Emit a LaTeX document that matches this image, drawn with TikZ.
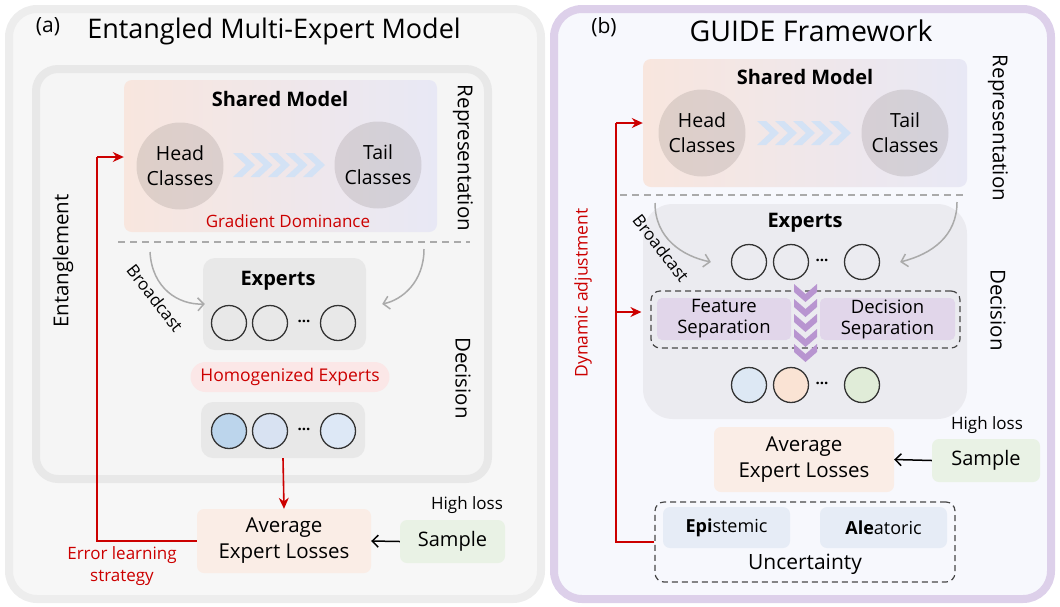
\documentclass[tikz,border=0pt]{standalone}
\usepackage{fontspec}
\setmainfont{Open Sans}
\usetikzlibrary{arrows.meta,calc}
\definecolor{redA}{HTML}{CC0000}
\definecolor{panA}{HTML}{F7F7F7}
\definecolor{panAb}{HTML}{EDEDED}
\definecolor{inA}{HTML}{F5F5F5}
\definecolor{inAb}{HTML}{E8E8E8}
\definecolor{panB}{HTML}{F7F8FD}
\definecolor{panBb}{HTML}{DDD0EA}
\definecolor{shL}{HTML}{F8E6DE}
\definecolor{shR}{HTML}{E8E8F5}
\definecolor{expbg}{HTML}{E8E8E8}
\definecolor{expbgB}{HTML}{EBEBF0}
\definecolor{chevB}{HTML}{D3E2F5}
\definecolor{chevP}{HTML}{B895D0}
\definecolor{sepP}{HTML}{E1D6EA}
\definecolor{avgF}{HTML}{FAEDE6}
\definecolor{sampF}{HTML}{E9F2E5}
\definecolor{pillF}{HTML}{FBE7E7}
\definecolor{uncF}{HTML}{E6ECF6}
\definecolor{cBlue1}{HTML}{BCD5EC}
\definecolor{cBlue2}{HTML}{D8E2F2}
\definecolor{cBlue3}{HTML}{DDE8F6}
\definecolor{cB1}{HTML}{DDE8F4}
\definecolor{cB2}{HTML}{FAE3D4}
\definecolor{cB3}{HTML}{E0ECD8}
\definecolor{lineG}{HTML}{AAAAAA}
\definecolor{darkL}{HTML}{333333}
\tikzset{
  titletext/.style={font=\fontsize{27}{32}\selectfont},
  labtext/.style={font=\fontsize{21}{25}\selectfont},
  boldtext/.style={font=\fontsize{20}{24}\selectfont\bfseries},
  bodytext/.style={font=\fontsize{21}{25}\selectfont, align=center},
  smalltext/.style={font=\fontsize{17}{20}\selectfont, align=center},
  redtext/.style={font=\fontsize{17}{22}\selectfont, text=redA, align=center},
  vlabel/.style={font=\fontsize{20.5}{24}\selectfont},
  sharedbox/.style={rectangle, rounded corners=8, left color=shL, right color=shR, inner sep=0},
  clsnode/.style={circle, fill=black!55!shL, fill opacity=0.18, text opacity=1, minimum size=87, inner sep=0, font=\fontsize{19.5}{25}\selectfont, align=center},
  expbox/.style={rectangle, rounded corners=12, fill=expbg, inner sep=0},
  expcirc/.style={circle, draw=darkL, line width=1.3, minimum size=35, inner sep=0},
  softbox/.style={rectangle, rounded corners=7, inner sep=0, align=center},
  dashbox/.style={rectangle, rounded corners=9, draw=darkL!90, dashed, dash pattern=on 6pt off 4pt, line width=1.2, inner sep=0},
  redarrow/.style={draw=redA, line width=1.6, -{Stealth[length=11pt,width=10pt]}},
  redline/.style={draw=redA, line width=1.6},
  grayarc/.style={draw=lineG, line width=1.5, -{Straight Barb[length=6pt,width=13pt]}},
  blackarrow/.style={draw=black, line width=1.5, -{Straight Barb[length=6pt,width=12pt]}},
  sepline/.style={draw=lineG, line width=1.3, dash pattern=on 7pt off 5pt},
  dots/.style={font=\fontsize{15}{18}\selectfont\bfseries},
}
\begin{document}
\begin{tikzpicture}[x=1pt,y=-1pt]
\useasboundingbox (0,0) rectangle (1060,606);
% ================= panel (a) =================
\draw[draw=panAb, fill=panA, line width=8, rounded corners=28] (9,9) rectangle (541,599);
\draw[draw=inAb, fill=inA, line width=8, rounded corners=22] (36,69) rectangle (488,479);
\node[labtext] (labA) at (48,27) {(a)};
\node[titletext] (titA) at (274,31) {Entangled Multi-Expert Model};
\node[sharedbox, minimum width=313, minimum height=152] (shA) at (280.5,156) {};
\node[boldtext] (shAt) at (280,99) {Shared Model};
\node[clsnode] (hdA) at (180,166) {Head\\Classes};
\node[clsnode] (tlA) at (378,165) {Tail\\Classes};
\foreach \x in {233,250.5,268,285.5,303} {
  \fill[chevB] (\x,153) -- (\x+9,153) -- (\x+22,165) -- (\x+9,177) -- (\x,177) -- (\x+13,165) -- cycle;
}
\node[redtext] (gdA) at (288,221) {Gradient Dominance};
\node[vlabel, rotate=-90] (repA) at (463,158) {Representation};
\coordinate (dlA1) at (118,242);
\coordinate (dlA2) at (470,242);
\draw[sepline] (dlA1) -- (dlA2);
\node[expbox, minimum width=163, minimum height=92] (exA) at (284.5,304) {};
\node[boldtext] (exAt) at (278,281) {Experts};
\node[expcirc] (cA1) at (229,323) {};
\node[expcirc] (cA2) at (270,323) {};
\node[dots] (dA) at (304,321) {...};
\node[expcirc] (cA3) at (338,323) {};
\coordinate (bcA1) at (150,252);
\coordinate (bcA2) at (424,249);
\draw[grayarc] (bcA1) .. controls (152,288) and (178,305) .. ([xshift=2]exA.west);
\draw[grayarc] (bcA2) .. controls (424,282) and (402,300) .. ([xshift=16]exA.east);
\node[smalltext, rotate=-52] (bdA) at (155,298) {Broadcast};
\node[softbox, fill=pillF, rounded corners=15, minimum width=199, minimum height=30, font=\fontsize{17.5}{20}\selectfont, text=redA] (hoA) at (290,377) {Homogenized Experts};
\node[expbox, minimum width=164, minimum height=56] (ex2A) at (283,430) {};
\node[expcirc, fill=cBlue1] (dA1) at (229,431) {};
\node[expcirc, fill=cBlue2] (dA2) at (270,431) {};
\node[dots] (dA0) at (304,429) {...};
\node[expcirc, fill=cBlue3] (dA3) at (338,431) {};
\node[vlabel, rotate=-90] (decA) at (463,378) {Decision};
\node[vlabel, rotate=90] (entA) at (63,261) {Entanglement};
\node[softbox, fill=avgF, minimum width=174, minimum height=64, font=\fontsize{20.5}{26}\selectfont] (avA) at (284,541) {Average\\Expert Losses};
\node[softbox, fill=sampF, minimum width=105, minimum height=43, font=\fontsize{20}{24}\selectfont] (smA) at (452.5,541.5) {Sample};
\node[smalltext] (hlA) at (467,505) {High loss};
\draw[redarrow] (ex2A.south) -- (avA.north);
\draw[blackarrow] (smA.west) -- (avA.east);
\coordinate (fbA) at (97,157);
\draw[redline] (avA.west) -| (fbA);
\draw[redarrow] (fbA) -- (shA.west |- fbA);
\node[redtext] (elA) at (122,566) {Error learning\\strategy};
% ================= panel (b) =================
\draw[draw=panBb, fill=panB, line width=8, rounded corners=28] (554,9) rectangle (1051,599);
\node[labtext] (labB) at (604,27) {(b)};
\node[titletext, font=\fontsize{28.5}{32}\selectfont] (titB) at (811,31) {GUIDE Framework};
\node[sharedbox, minimum width=324, minimum height=128] (shB) at (805,123) {};
\node[boldtext] (shBt) at (805,77) {Shared Model};
\node[clsnode] (hdB) at (702,133) {Head\\Classes};
\node[clsnode] (tlB) at (905,133) {Tail\\Classes};
\foreach \x in {757,775,793,811,829} {
  \fill[chevB] (\x,121) -- (\x+9,121) -- (\x+22,133) -- (\x+9,145) -- (\x,145) -- (\x+13,133) -- cycle;
}
\node[vlabel, rotate=-90] (repB) at (998,128) {Representation};
\coordinate (dlB1) at (620,195);
\coordinate (dlB2) at (967,195);
\draw[sepline] (dlB1) -- (dlB2);
\node[rectangle, rounded corners=30, fill=expbgB, minimum width=324, minimum height=215, inner sep=0] (exB) at (805,311.5) {};
\node[boldtext] (exBt) at (805,223) {Experts};
\node[expcirc] (cB1n) at (749,262) {};
\node[expcirc] (cB2n) at (791,262) {};
\node[dots] (dB) at (822,260) {...};
\node[expcirc] (cB3n) at (862,262) {};
\coordinate (bcB1) at (655,203);
\coordinate (bcB2) at (957,202);
\draw[grayarc] (bcB1) .. controls (655,238) and (682,256) .. ([xshift=-20]cB1n.west);
\draw[grayarc] (bcB2) .. controls (957,236) and (932,254) .. ([xshift=20]cB3n.east);
\node[smalltext, rotate=-52] (bdB) at (661,248) {Broadcast};
\node[dashbox, minimum width=309, minimum height=57] (sepB) at (805.5,319.5) {};
\node[softbox, fill=sepP, rounded corners=5, minimum width=134, minimum height=42, font=\fontsize{18.5}{21}\selectfont] (fsB) at (724,319) {Feature\\Separation};
\node[softbox, fill=sepP, rounded corners=5, minimum width=135, minimum height=42, font=\fontsize{18.5}{21}\selectfont] (dsB) at (887.5,319) {Decision\\Separation};
\foreach \y in {284,299,314,329,344} {
  \fill[chevP] (794,\y) -- (805.5,\y+10) -- (817,\y) -- (817,\y+8) -- (805.5,\y+18) -- (794,\y+8) -- cycle;
}
\node[expcirc, fill=cB1] (eB1) at (749,385) {};
\node[expcirc, fill=cB2] (eB2) at (791,385) {};
\node[dots] (dB0) at (822,383) {...};
\node[expcirc, fill=cB3] (eB3) at (862,385) {};
\node[vlabel, rotate=-90] (decB) at (998,310) {Decision};
\node[softbox, fill=avgF, minimum width=180, minimum height=65, font=\fontsize{20.5}{26}\selectfont] (avB) at (804,459.5) {Average\\Expert Losses};
\node[softbox, fill=sampF, minimum width=108, minimum height=43, font=\fontsize{20}{24}\selectfont] (smB) at (986,460.5) {Sample};
\node[smalltext] (hlB) at (987,425) {High loss};
\draw[blackarrow] (smB.west) -- (avB.east);
\node[dashbox, minimum width=300, minimum height=80] (unB) at (805,542) {};
\node[softbox, fill=uncF, minimum width=127, minimum height=41, font=\fontsize{18}{21}\selectfont] (epB) at (726.5,527.5) {\textbf{Epi}stemic};
\node[softbox, fill=uncF, minimum width=127, minimum height=41, font=\fontsize{18}{21}\selectfont] (alB) at (883.5,527.5) {\textbf{Ale}atoric};
\node[bodytext] (unBt) at (805,564) {Uncertainty};
\coordinate (fbB) at (616,123);
\coordinate (brB) at (616,312);
\draw[redline] (unB.west) -| (fbB);
\draw[redarrow] (fbB) -- (shB.west |- fbB);
\draw[redarrow] (brB) -- ([xshift=-9]sepB.west |- brB);
\node[redtext, font=\fontsize{17.5}{22}\selectfont, rotate=90] (dyB) at (583,293) {Dynamic adjustment};
\end{tikzpicture}
\end{document}
